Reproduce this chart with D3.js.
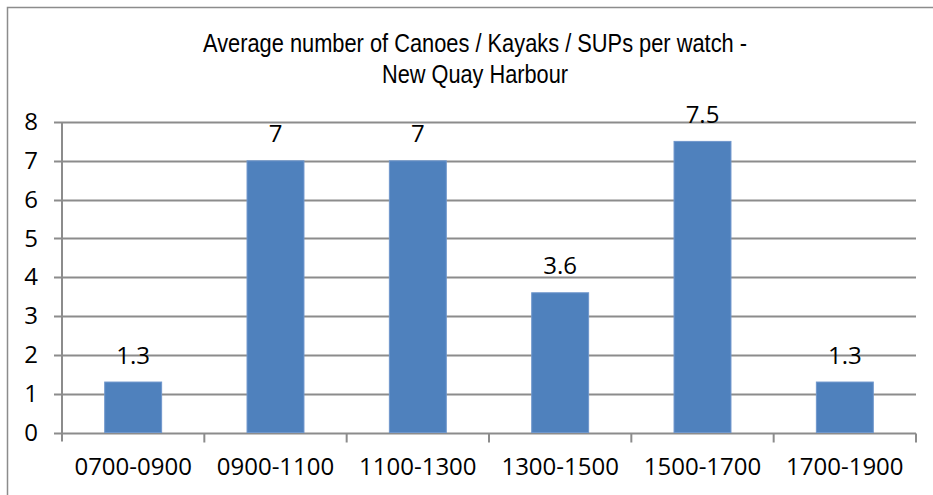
<!DOCTYPE html>
<html>
<head>
<meta charset="utf-8">
<script src="https://cdn.jsdelivr.net/npm/d3@7"></script>
<style>
  body { margin: 0; background: #fff; }
  text { fill: #000; }
</style>
</head>
<body>
<div id="container"></div>
<script>
const width = 933;
const height = 495;

const categories = ["0700-0900", "0900-1100", "1100-1300", "1300-1500", "1500-1700", "1700-1900"];
const values = [1.3, 7, 7, 3.6, 7.5, 1.3];
const valueLabels = ["1.3", "7", "7", "3.6", "7.5", "1.3"];
const yTicks = [0, 1, 2, 3, 4, 5, 6, 7, 8];
const titleLines = ["Average number of Canoes / Kayaks / SUPs per watch -", "New Quay Harbour"];

const margin = {left: 62, right: 17, top: 122, bottom: 62};
const labelFont = "'Open Sans', 'Noto Sans', sans-serif";
const gridColor = "#8c8c8c";

const svg = d3.select("#container").append("svg")
    .attr("width", width)
    .attr("height", height);

// outer chart frame (runs off the right and bottom edges)
svg.append("rect")
    .attr("x", 7.5)
    .attr("y", 7.5)
    .attr("width", width + 20)
    .attr("height", height + 20)
    .attr("fill", "none")
    .attr("stroke", gridColor)
    .attr("stroke-width", 1.5);

const x = d3.scaleBand()
    .domain(categories)
    .range([margin.left, width - margin.right])
    .paddingInner(0.6)
    .paddingOuter(0.3);

const xGrid = d3.scaleBand()
    .domain(categories)
    .range([margin.left, width - margin.right]);

const y = d3.scaleLinear()
    .domain([0, 8])
    .range([height - margin.bottom - 0.5, margin.top]);

// horizontal gridlines
svg.append("g")
    .selectAll("line")
    .data(yTicks)
    .enter()
    .append("line")
    .attr("x1", margin.left - 8)
    .attr("x2", width - margin.right)
    .attr("y1", d => Math.round(y(d)) + 0.5)
    .attr("y2", d => Math.round(y(d)) + 0.5)
    .attr("stroke", gridColor)
    .attr("stroke-width", 2);

// y axis
const yAxis = svg.append("g")
    .attr("transform", `translate(${margin.left},0)`)
    .call(d3.axisLeft(y).tickValues(yTicks).tickSize(0).tickPadding(24).tickFormat(d3.format("d")));
yAxis.select(".domain")
    .attr("stroke", gridColor)
    .attr("stroke-width", 2)
    .attr("d", `M0,${margin.top}V${y(0) + 9}`);
yAxis.selectAll("text")
    .attr("font-family", labelFont)
    .attr("font-size", 24)
    .attr("fill", "#000");

// x axis ticks at category boundaries
const xAxis = svg.append("g")
    .attr("transform", `translate(0,${Math.round(y(0)) + 0.5})`);
xAxis.selectAll("line")
    .data(categories)
    .enter()
    .append("line")
    .attr("x1", d => xGrid(d) + xGrid.bandwidth())
    .attr("x2", d => xGrid(d) + xGrid.bandwidth())
    .attr("y1", 0)
    .attr("y2", 9)
    .attr("stroke", gridColor)
    .attr("stroke-width", 2);

svg.append("g")
    .selectAll("text")
    .data(categories)
    .enter()
    .append("text")
    .attr("x", d => xGrid(d) + xGrid.bandwidth() / 2)
    .attr("y", 475)
    .attr("text-anchor", "middle")
    .attr("font-family", labelFont)
    .attr("font-size", 24)
    .text(d => d);

// bars
svg.append("g")
    .selectAll("rect")
    .data(values)
    .enter()
    .append("rect")
    .attr("x", (d, i) => x(categories[i]))
    .attr("y", d => y(d))
    .attr("width", x.bandwidth())
    .attr("height", d => y(0) - y(d))
    .attr("fill", "#4f81bd")
    .attr("stroke", "#6f97cc")
    .attr("stroke-width", 1);

// value labels
svg.append("g")
    .selectAll("text")
    .data(values)
    .enter()
    .append("text")
    .attr("x", (d, i) => x(categories[i]) + x.bandwidth() / 2)
    .attr("y", d => y(d) - 18.5)
    .attr("text-anchor", "middle")
    .attr("font-family", labelFont)
    .attr("font-size", 24)
    .text((d, i) => valueLabels[i]);

// title, condensed like Arial Narrow
const titleWidths = [544, 186];
svg.append("g")
    .selectAll("text")
    .data(titleLines)
    .enter()
    .append("text")
    .attr("x", 475)
    .attr("y", (d, i) => 52 + i * 31)
    .attr("text-anchor", "middle")
    .attr("font-family", "'Liberation Sans Narrow', 'Liberation Sans', Arial, sans-serif")
    .attr("font-size", 25.5)
    .attr("textLength", (d, i) => titleWidths[i])
    .attr("lengthAdjust", "spacingAndGlyphs")
    .text(d => d);
</script>
</body>
</html>
